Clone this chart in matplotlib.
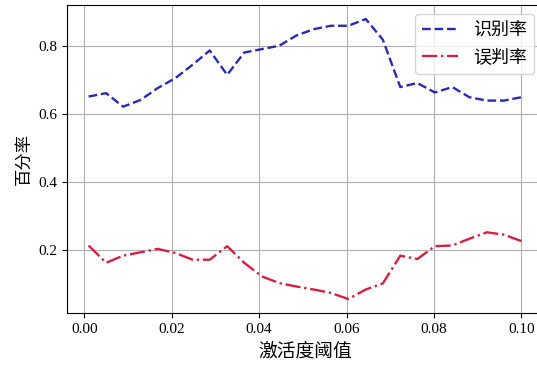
import numpy as np
import matplotlib
matplotlib.use('Agg')
import matplotlib.pyplot as plt

plt.rcParams['font.family'] = ['Liberation Serif', 'Noto Sans CJK SC', 'DejaVu Sans']

# threshold values
thresh = [0.0010, 0.0050, 0.0089, 0.0129, 0.0168, 0.0208, 0.0248, 0.0287,
          0.0327, 0.0366, 0.0406, 0.0446, 0.0485, 0.0525, 0.0564, 0.0604,
          0.0644, 0.0683, 0.0723, 0.0762, 0.0802, 0.0842, 0.0881, 0.0921,
          0.0960, 0.1000]
# recognition rate
recog = [0.652, 0.662, 0.622, 0.642, 0.677, 0.706, 0.746, 0.788, 0.716, 0.782,
         0.792, 0.802, 0.832, 0.851, 0.861, 0.861, 0.881, 0.820, 0.680, 0.692,
         0.664, 0.680, 0.650, 0.640, 0.640, 0.650]
# misjudge rate
misj = [0.212, 0.161, 0.182, 0.192, 0.202, 0.190, 0.170, 0.170, 0.210, 0.161,
        0.121, 0.101, 0.091, 0.082, 0.072, 0.054, 0.082, 0.100, 0.182, 0.172,
        0.210, 0.212, 0.232, 0.251, 0.244, 0.225]

fig = plt.figure(figsize=(5.37, 3.69), dpi=100)
# axes runs a bit past the right edge, like the cropped original
ax = fig.add_axes([67 / 537, 56 / 369, 476 / 537, 308 / 369])

ax.plot(thresh, recog, '--', color='#2a2ab5', lw=1.7, label='识别率')
ax.plot(thresh, misj, '-.', color='#d62040', lw=1.7, label='误判率')

ax.grid(True)
ax.spines['right'].set_visible(False)
ax.set_yticks([0.2, 0.4, 0.6, 0.8])
ax.set_xticks([0.0, 0.02, 0.04, 0.06, 0.08, 0.10])
ax.tick_params(labelsize=11)
ax.set_xlabel('激活度阈值', fontsize=13.5, family=['Noto Sans CJK SC'])
ax.set_ylabel('百分率', fontsize=12.5, family=['Noto Sans CJK SC'])
leg = ax.legend(loc='upper right', prop={'family': 'Noto Sans CJK SC', 'size': 13})

fig.savefig('out.png', dpi=100)
